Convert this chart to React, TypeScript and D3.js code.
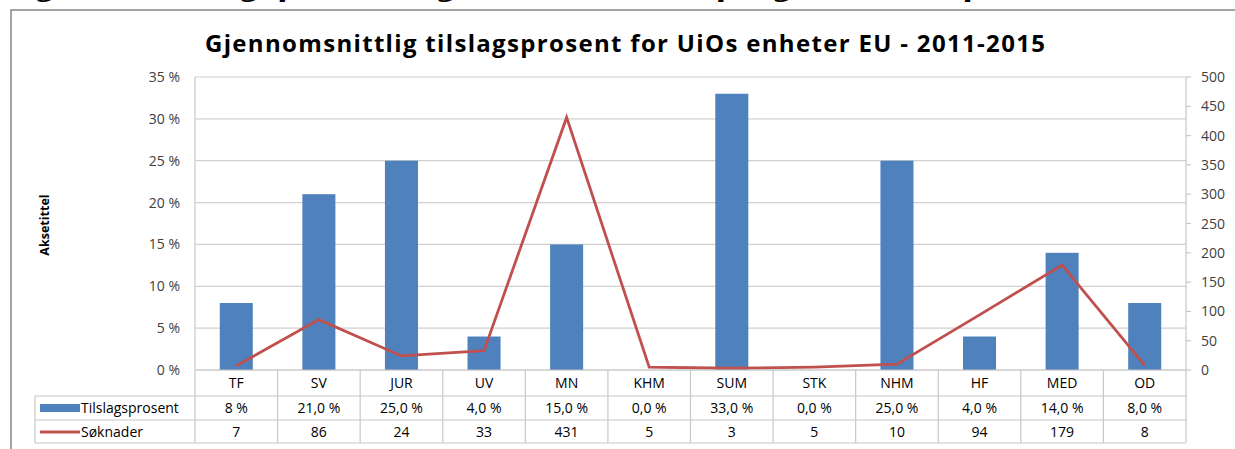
import React, { useRef, useEffect } from "react";
import * as d3 from "d3";

const categories = ["TF", "SV", "JUR", "UV", "MN", "KHM", "SUM", "STK", "NHM", "HF", "MED", "OD"];
const tilslag = [0.08, 0.21, 0.25, 0.04, 0.15, 0, 0.33, 0, 0.25, 0.04, 0.14, 0.08];
const tilslagLabels = ["8 %", "21,0 %", "25,0 %", "4,0 %", "15,0 %", "0,0 %", "33,0 %", "0,0 %", "25,0 %", "4,0 %", "14,0 %", "8,0 %"];
const soknader = [7, 86, 24, 33, 431, 5, 3, 5, 10, 94, 179, 8];
const leftTicks = [0, 0.05, 0.1, 0.15, 0.2, 0.25, 0.3, 0.35];
const rightTicks = [0, 50, 100, 150, 200, 250, 300, 350, 400, 450, 500];

const title = "Gjennomsnittlig tilslagsprosent for UiOs enheter EU - 2011-2015";
const font = "'Open Sans', Lato, sans-serif";

export default function App() {
    const ref = useRef<SVGSVGElement>(null);

    useEffect(() => {
        const width = 1235;
        const height = 449;
        const plotLeft = 195;
        const plotRight = 1186;
        const plotTop = 77;
        const plotBottom = 370;
        const tableLeft = 35;
        const rowLines = [370, 396, 420, 443];

        const svg = d3.select(ref.current);
        svg.selectAll("*").remove();

        svg.append("rect").attr("width", width).attr("height", height).attr("fill", "white");

        // cut-off heading above the chart frame (only descenders visible)
        svg.append("text")
            .attr("x", 4).attr("y", -4)
            .style("font-family", "'DejaVu Serif', serif")
            .style("font-style", "italic").style("font-weight", "bold")
            .style("font-size", "30px")
            .text("Figur 4: Tilslagsprosent og søknader i EU-programmene per enhet");

        // chart frame
        svg.append("rect")
            .attr("x", 11).attr("y", 10)
            .attr("width", width + 20).attr("height", height + 20)
            .attr("fill", "white").attr("stroke", "#868686").attr("stroke-width", 1.5);

        svg.append("text")
            .attr("x", 625).attr("y", 52)
            .attr("text-anchor", "middle")
            .attr("textLength", 840).attr("lengthAdjust", "spacing")
            .style("font-family", font).style("font-weight", "bold").style("font-size", "24px")
            .attr("fill", "#000")
            .text(title);

        const x = d3.scaleBand().domain(categories).range([plotLeft, plotRight]);
        const yLeft = d3.scaleLinear().domain([0, 0.35]).range([plotBottom, plotTop]);
        const yRight = d3.scaleLinear().domain([0, 500]).range([plotBottom, plotTop]);
        const barW = x.bandwidth() * 0.4;

        // grid
        svg.append("g").selectAll("line")
            .data(leftTicks)
            .enter().append("line")
            .attr("x1", plotLeft).attr("x2", plotRight)
            .attr("y1", d => yLeft(d)).attr("y2", d => yLeft(d))
            .attr("stroke", "#d0d0d0").attr("stroke-width", 1.2);

        svg.append("line")
            .attr("x1", plotLeft).attr("x2", plotLeft)
            .attr("y1", plotTop).attr("y2", plotBottom)
            .attr("stroke", "#c8c8c8").attr("stroke-width", 1.2);

        // left axis labels
        svg.append("g").selectAll("text")
            .data(leftTicks)
            .enter().append("text")
            .attr("x", 180).attr("y", d => yLeft(d) + 5)
            .attr("text-anchor", "end")
            .style("font-family", font).style("font-size", "14px")
            .attr("fill", "#404040")
            .text(d => `${Math.round(d * 100)} %`);

        // right axis
        svg.append("line")
            .attr("x1", plotRight).attr("x2", plotRight)
            .attr("y1", plotTop).attr("y2", rowLines[3])
            .attr("stroke", "#c8c8c8").attr("stroke-width", 1.2);
        svg.append("g").selectAll("line")
            .data(rightTicks)
            .enter().append("line")
            .attr("x1", plotRight).attr("x2", plotRight + 5)
            .attr("y1", d => yRight(d)).attr("y2", d => yRight(d))
            .attr("stroke", "#c8c8c8").attr("stroke-width", 1.2);
        svg.append("g").selectAll("text")
            .data(rightTicks)
            .enter().append("text")
            .attr("x", 1201).attr("y", d => yRight(d) + 5)
            .style("font-family", font).style("font-size", "14px")
            .attr("fill", "#404040")
            .text(d => d);

        svg.append("text")
            .attr("transform", "translate(49,225) rotate(-90)")
            .attr("text-anchor", "middle")
            .style("font-family", font).style("font-weight", "bold").style("font-size", "12.5px")
            .text("Aksetittel");

        // bars
        svg.append("g").selectAll("rect")
            .data(categories)
            .enter().append("rect")
            .attr("x", d => x(d)! + (x.bandwidth() - barW) / 2)
            .attr("width", barW)
            .attr("y", (d, i) => yLeft(tilslag[i]))
            .attr("height", (d, i) => plotBottom - yLeft(tilslag[i]))
            .attr("fill", "#4F81BD");

        // line
        const line = d3.line<number>()
            .x((d, i) => x(categories[i])! + x.bandwidth() / 2)
            .y(d => yRight(d));
        svg.append("path")
            .datum(soknader)
            .attr("d", line)
            .attr("fill", "none")
            .attr("stroke", "#C0504D")
            .attr("stroke-width", 2.8);

        // data table
        const grid = "#c8c8c8";
        const table = svg.append("g");
        table.append("line")
            .attr("x1", plotLeft).attr("x2", plotRight)
            .attr("y1", rowLines[0]).attr("y2", rowLines[0])
            .attr("stroke", grid).attr("stroke-width", 1.2);
        rowLines.slice(1).forEach(y => {
            table.append("line")
                .attr("x1", tableLeft).attr("x2", plotRight)
                .attr("y1", y).attr("y2", y)
                .attr("stroke", grid).attr("stroke-width", 1.2);
        });
        table.append("line")
            .attr("x1", tableLeft).attr("x2", tableLeft)
            .attr("y1", rowLines[1]).attr("y2", rowLines[3])
            .attr("stroke", grid).attr("stroke-width", 1.2);
        table.selectAll(".sep")
            .data(categories)
            .enter().append("line")
            .attr("x1", d => x(d)!).attr("x2", d => x(d)!)
            .attr("y1", rowLines[0]).attr("y2", rowLines[3])
            .attr("stroke", grid).attr("stroke-width", 1.2);

        const rows = [categories, tilslagLabels, soknader.map(String)];
        rows.forEach((row, r) => {
            table.append("g").selectAll("text")
                .data(row)
                .enter().append("text")
                .attr("x", (d, i) => x(categories[i])! + x.bandwidth() / 2)
                .attr("y", (rowLines[r] + rowLines[r + 1]) / 2 + 5)
                .attr("text-anchor", "middle")
                .style("font-family", font).style("font-size", "14px")
                .attr("fill", "#000")
                .text(d => d);
        });

        // legend keys in table
        table.append("rect")
            .attr("x", 40).attr("y", 404).attr("width", 40).attr("height", 8)
            .attr("fill", "#4F81BD");
        table.append("line")
            .attr("x1", 40).attr("x2", 80).attr("y1", 432).attr("y2", 432)
            .attr("stroke", "#C0504D").attr("stroke-width", 2.8);
        table.append("text")
            .attr("x", 81).attr("y", 413)
            .style("font-family", font).style("font-size", "14px")
            .text("Tilslagsprosent");
        table.append("text")
            .attr("x", 81).attr("y", 437)
            .style("font-family", font).style("font-size", "14px")
            .text("Søknader");
    }, []);

    return (
        <svg ref={ref} width={1235} height={449}
            style={{ position: "absolute", left: 0, top: 0, display: "block" }} />
    );
}
